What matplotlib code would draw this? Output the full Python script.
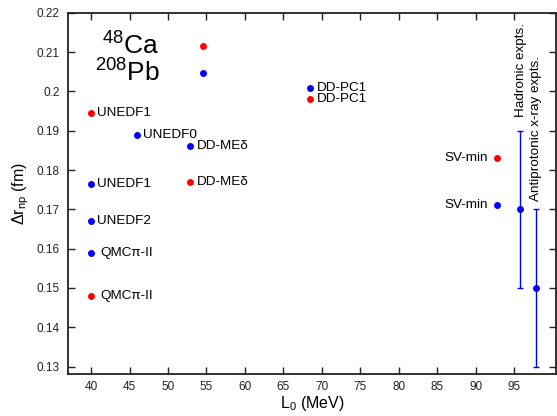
import matplotlib
matplotlib.use("Agg")
import matplotlib.pyplot as plt

plt.rcParams['font.family'] = ['Liberation Sans', 'DejaVu Sans']
plt.rcParams['mathtext.fontset'] = 'custom'
plt.rcParams['mathtext.rm'] = 'Liberation Sans'
plt.rcParams['mathtext.it'] = 'Liberation Sans:italic'

# 48Ca (red)
ca_names = ["UNEDF1", "DD-MEδ", "DD-PC1", "SV-min", "QMCπ-II"]
ca_L = [40.0, 52.8, 68.4, 92.8, 40.0]
ca_dr = [0.1946, 0.1770, 0.1981, 0.1831, 0.1480]

# 208Pb (blue)
pb_names = ["UNEDF0", "DD-MEδ", "DD-PC1", "UNEDF1", "UNEDF2", "QMCπ-II", "SV-min"]
pb_L = [46.0, 52.8, 68.4, 40.0, 40.0, 40.0, 92.8]
pb_dr = [0.1888, 0.1861, 0.2010, 0.1764, 0.1671, 0.1589, 0.1710]

# key markers
key_L = [54.5, 54.5]
key_dr = [0.2116, 0.2048]
key_labels = [r"$^{48}$Ca", r"$^{208}$Pb"]

# experiments
exp_names = ["Hadronic expts.", "Antiprotonic x-ray expts."]
exp_L = [95.7, 97.8]
exp_dr = [0.170, 0.150]
exp_err = [0.020, 0.020]

fig = plt.figure(figsize=(5.57, 4.16), dpi=100)
ax = fig.add_axes([0.122, 0.101, 0.876, 0.868])

ax.plot(ca_L, ca_dr, 'o', color='red', ms=5, mec='none')
ax.plot(pb_L, pb_dr, 'o', color='blue', ms=5, mec='none')
ax.plot(key_L[:1], key_dr[:1], 'o', color='red', ms=5, mec='none')
ax.plot(key_L[1:], key_dr[1:], 'o', color='blue', ms=5, mec='none')

ax.errorbar(exp_L, exp_dr, yerr=exp_err, fmt='o', color='blue', ms=5,
            mec='none', capsize=2.3, elinewidth=1, capthick=1)

fs = 9.7


def label(n, x, y):
    if n == "SV-min":
        off, ha = (-6.5, 0), 'right'
    elif n == "QMCπ-II":
        off, ha = (6.5, 0), 'left'
    elif n.startswith("UNEDF"):
        off, ha = (4.3, 0), 'left'
    else:
        off, ha = (5.2, 0), 'left'
    ax.annotate(n, (x, y), xytext=off, textcoords='offset points',
                ha=ha, va='center', fontsize=fs)


for n, x, y in zip(ca_names, ca_L, ca_dr):
    label(n, x, y)
for n, x, y in zip(pb_names, pb_L, pb_dr):
    label(n, x, y)

for lab, x, y in zip(key_labels, key_L, key_dr):
    ax.annotate(lab, (x, y), xytext=(-31, 0), textcoords='offset points',
                ha='right', va='center', fontsize=19)

ax.annotate(exp_names[0], (exp_L[0], exp_dr[0] + exp_err[0]), xytext=(1, 10),
            textcoords='offset points', ha='center', va='bottom', rotation=90,
            fontsize=fs)
ax.annotate(exp_names[1], (exp_L[1], exp_dr[1] + exp_err[1]), xytext=(0, 6),
            textcoords='offset points', ha='center', va='bottom', rotation=90,
            fontsize=fs)

ax.set_xlim(37.0, 100.4)
ax.set_ylim(0.1281, 0.22)
ax.set_xticks([40, 45, 50, 55, 60, 65, 70, 75, 80, 85, 90, 95])
ax.set_yticks([0.13, 0.14, 0.15, 0.16, 0.17, 0.18, 0.19, 0.2, 0.21, 0.22])
ax.set_yticklabels(["0.13", "0.14", "0.15", "0.16", "0.17", "0.18", "0.19", "0.2", "0.21", "0.22"])
ax.tick_params(direction='in', top=True, right=True, labelsize=8.5, length=5,
               width=1, colors='#222222', labelcolor='#222222')
ax.tick_params(axis='x', pad=5)
ax.tick_params(axis='y', pad=6)
for s in ax.spines.values():
    s.set_linewidth(1.3)
    s.set_color('#222222')

ax.set_xlabel(r"L$_0$ (MeV)", fontsize=11.5, labelpad=1)
ax.set_ylabel(r"$\Delta$r$_{\rm np}$ (fm)", fontsize=11.5, labelpad=4)

fig.savefig("out.png", dpi=100)
